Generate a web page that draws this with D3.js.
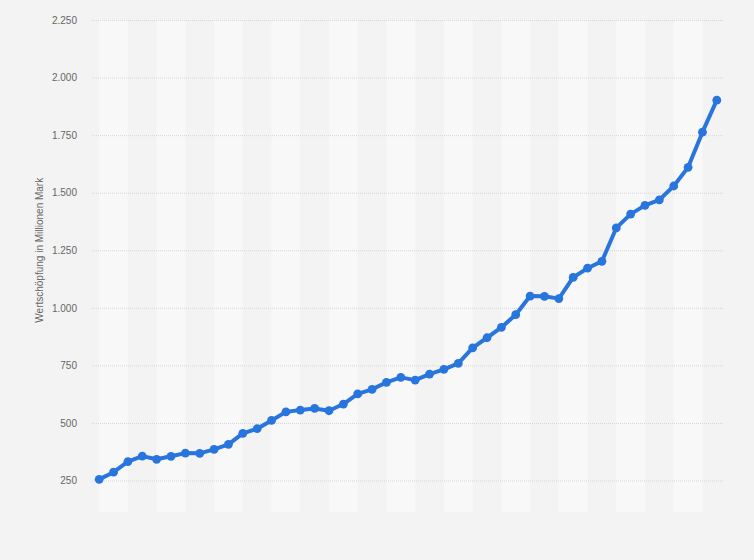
<!DOCTYPE html>
<html lang="de">
<head>
  <meta charset="UTF-8">
  <title>Wertschöpfung</title>
  <style>
    body {
      margin: 0;
      background-color: #f3f3f3;
      font-family: "Liberation Sans", Arial, sans-serif;
    }
    .tick text {
      font-size: 10px;
      fill: #666;
    }
    .grid line {
      stroke: #d6d6d6;
      stroke-dasharray: 1,1;
    }
    .axis-title {
      font-size: 10px;
      fill: #666;
    }
  </style>
</head>
<body>
  <svg id="chart" width="754" height="560"></svg>

  <script src="https://cdn.jsdelivr.net/npm/d3@7"></script>
  <script>
    // values (Mio. Mark), one per period
    var values = [255, 286, 332, 356, 342, 355, 369, 368, 385, 407,
                  455, 475, 511, 548, 556, 563, 553, 582, 626, 646,
                  676, 698, 686, 712, 733, 759, 826, 870, 915, 970,
                  1051, 1050, 1040, 1132, 1172, 1202, 1347, 1407, 1445, 1469,
                  1529, 1610, 1763, 1902];
    var yTicks = [250, 500, 750, 1000, 1250, 1500, 1750, 2000, 2250];
    var yTitle = "Wertschöpfung in Millionen Mark";

    var plotLeft = 92, plotRight = 724, plotTop = 20, plotBottom = 480.5, bandBottom = 512;

    var svg = d3.select("#chart");

    var de = d3.formatLocale({ decimal: ",", thousands: ".", grouping: [3], currency: ["", " €"] });
    var fmt = de.format(",d");

    var idx = values.map(function(d, i) { return i; });

    var x = d3.scaleBand()
      .domain(idx)
      .range([plotLeft, plotRight])
      .padding(0);

    var y = d3.scaleLinear()
      .domain([250, 2250])
      .range([plotBottom, plotTop]);

    function cx(i) { return x(i) + x.bandwidth() / 2; }

    // alternating column stripes, two periods wide
    var stripes = d3.range(0, values.length, 2).filter(function(d, k) { return k % 2 === 0; });
    svg.append("g")
      .selectAll("rect")
      .data(stripes)
      .enter().append("rect")
      .attr("x", function(i) { return cx(i); })
      .attr("y", plotTop)
      .attr("width", function(i) { return Math.min(cx(i) + 2 * x.bandwidth(), plotRight) - cx(i); })
      .attr("height", bandBottom - plotTop)
      .attr("fill", "#f8f8f8");

    // horizontal grid
    svg.append("g")
      .attr("class", "grid")
      .attr("transform", "translate(" + plotLeft + ",0)")
      .call(d3.axisLeft(y).tickValues(yTicks).tickSize(-(plotRight - plotLeft)).tickFormat(""))
      .call(function(g) { g.select(".domain").remove(); });

    // y axis labels
    svg.append("g")
      .attr("transform", "translate(77,0)")
      .call(d3.axisLeft(y).tickValues(yTicks).tickSize(0).tickPadding(0).tickFormat(fmt))
      .call(function(g) { g.select(".domain").remove(); })
      .selectAll("text")
      .attr("font-family", "'Liberation Sans', Arial, sans-serif");

    svg.append("text")
      .attr("class", "axis-title")
      .attr("transform", "translate(43," + ((plotTop + plotBottom) / 2) + ") rotate(-90)")
      .attr("text-anchor", "middle")
      .text(yTitle);

    var line = d3.line()
      .x(function(d, i) { return cx(i); })
      .y(function(d) { return y(d); });

    svg.append("path")
      .datum(values)
      .attr("d", line)
      .attr("fill", "none")
      .attr("stroke", "#2876dd")
      .attr("stroke-width", 4)
      .attr("stroke-linejoin", "round");

    svg.append("g")
      .selectAll("circle")
      .data(values)
      .enter().append("circle")
      .attr("cx", function(d, i) { return cx(i); })
      .attr("cy", function(d) { return y(d); })
      .attr("r", 4.4)
      .attr("fill", "#2876dd");
  </script>
</body>
</html>
